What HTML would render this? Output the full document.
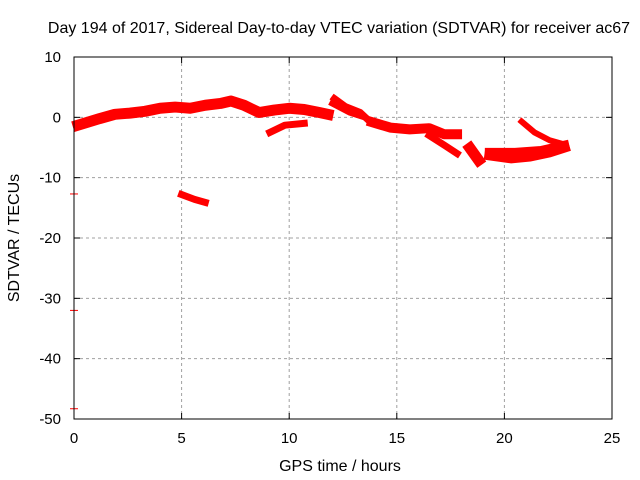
<!DOCTYPE html>
<html><head><meta charset="utf-8"><style>
body{margin:0;background:#fff}
svg{display:block;font-family:"Liberation Sans",sans-serif}
</style></head><body>
<svg id="chart" width="640" height="480" viewBox="0 0 640 480">
<text x="339" y="33" font-size="16" text-anchor="middle">Day 194 of 2017, Sidereal Day-to-day VTEC variation (SDTVAR) for receiver ac67</text>
<text x="340" y="471" font-size="16" text-anchor="middle">GPS time / hours</text>
<text x="19" y="238" font-size="16" text-anchor="middle" transform="rotate(-90 19 238)">SDTVAR / TECUs</text>
<g id="grid"></g><g id="marks"></g>
<rect x="74" y="57" width="538" height="362" fill="none" stroke="#000" stroke-width="1"/>
<g id="ticks"></g>
</svg>
<script>
const xTicks=[0,5,10,15,20,25];
const yTicks=[10,0,-10,-20,-30,-40,-50];
const mainH=[0.19,0.65,1.2,1.9,2.6,3.3,4.0,4.7,5.4,6.1,6.8,7.3,7.9,8.6,9.3,10.0,10.7,11.4,11.8];
const mainV=[-1.3,-0.8,-0.2,0.5,0.7,1.0,1.5,1.7,1.5,2.0,2.3,2.7,2.0,0.8,1.2,1.5,1.3,0.8,0.5];
const lowH=[9.1,9.8,10.7];const lowV=[-2.5,-1.3,-1.0];
const segH=[5.0,5.6,6.1];const segV=[-12.8,-13.6,-14.1];
const upAH=[12.1,12.6,13.3,13.6];const upAV=[3.1,1.8,0.8,-0.2];
const upBH=[12.0,12.8,13.5];const upBV=[2.3,0.8,0];
const descH=[13.85,14.7,15.6,16.5,17.2,17.8];const descV=[-0.8,-1.7,-2.0,-1.8,-2.8,-2.8];
const brH=[16.5,17.2,17.8];const brV=[-3.0,-4.6,-6.0];
const cluH=[18.4,18.8];const cluV=[-5.1,-7.1];
const bLowH=[19.3,20.3,21.2,22.1,22.8];const bLowV=[-6.3,-6.8,-6.5,-5.8,-5.0];
const bUpH=[19.3,20.5,21.7,22.8];const bUpV=[-5.8,-5.8,-5.5,-4.6];
const tailH=[20.8,21.4,22.1,22.6];const tailV=[-0.7,-2.5,-3.8,-4.3];
const edgeV=[-12.7,-32,-48.3];
const X=h=>74+h*538/25, Y=v=>57+(10-v)*362/60;
const NS='http://www.w3.org/2000/svg';
const grid=document.getElementById('grid'),marks=document.getElementById('marks'),ticks=document.getElementById('ticks');
function mk(p,t,a){const e=document.createElementNS(NS,t);for(const k in a)e.setAttribute(k,a[k]);p.appendChild(e);return e;}
xTicks.forEach(t=>{
 if(t>0&&t<25){const g=mk(grid,'line',{x1:X(t),x2:X(t),y1:57,y2:419,stroke:'#a0a0a0','stroke-dasharray':'3,3'});
 
 }
 mk(ticks,'line',{x1:X(t),x2:X(t),y1:419,y2:413,stroke:'#000'});
 mk(ticks,'line',{x1:X(t),x2:X(t),y1:57,y2:63,stroke:'#000'});
 const l=mk(ticks,'text',{x:X(t),y:443,'font-size':15,'text-anchor':'middle'});l.textContent=t;
 
 
});
yTicks.forEach(t=>{
 if(t<10&&t>-50){const g=mk(grid,'line',{x1:74,x2:612,y1:Y(t),y2:Y(t),stroke:'#a0a0a0','stroke-dasharray':'3,3'});
 
 }
 mk(ticks,'line',{x1:74,x2:80,y1:Y(t),y2:Y(t),stroke:'#000'});
 mk(ticks,'line',{x1:606,x2:612,y1:Y(t),y2:Y(t),stroke:'#000'});
 const l=mk(ticks,'text',{x:61,y:Y(t)+5,'font-size':15,'text-anchor':'end'});l.textContent=t;
 
 
});
const series=[[mainH,mainV,11],[lowH,lowV,7],[segH,segV,7],[upAH,upAV,7],[upBH,upBV,6],[descH,descV,10],[brH,brV,7],[cluH,cluV,11],[bLowH,bLowV,10],[bUpH,bUpV,9],[tailH,tailV,6]];
series.forEach(([hs,vs,w])=>{
 const p=mk(marks,'polyline',{points:hs.map((h,i)=>X(h)+','+Y(vs[i])).join(' '),fill:'none',stroke:'#f00','stroke-width':w,'stroke-linejoin':'round','stroke-linecap':'square'});
 
 
});
edgeV.forEach(v=>{
 const p=mk(marks,'line',{x1:X(0)-4,x2:X(0)+4,y1:Y(v),y2:Y(v),stroke:'#f00','stroke-width':1});
 
 
});
</script>
</body></html>
